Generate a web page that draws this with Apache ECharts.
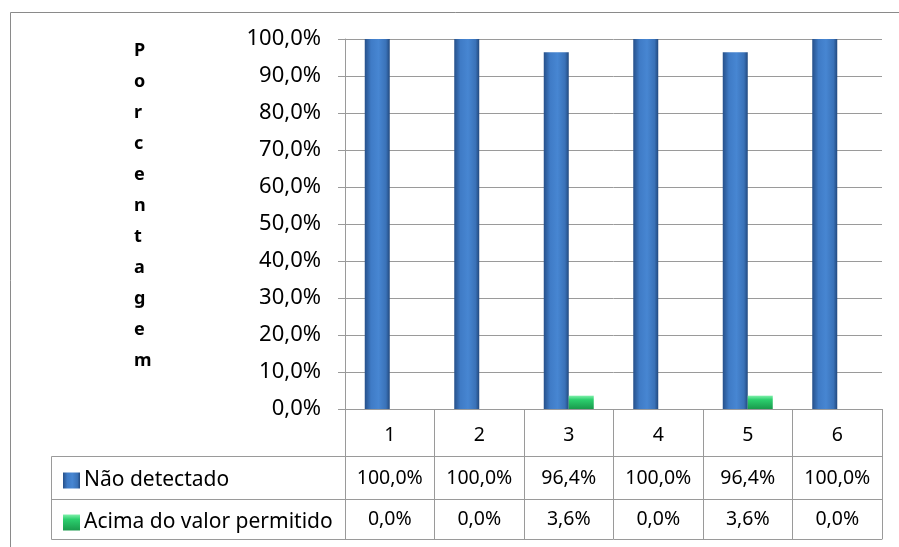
<!DOCTYPE html>
<html>
<head>
<meta charset="utf-8">
<script src="https://cdn.jsdelivr.net/npm/echarts@6/dist/echarts.min.js"></script>
<style>
  html, body { margin: 0; padding: 0; background: #fff; }
  #main { width: 899px; height: 547px; }
</style>
</head>
<body>
<div id="main"></div>
<script>
// dados do gráfico
const categorias = ['1', '2', '3', '4', '5', '6']
const naoDetectado = [1.0, 1.0, 0.964, 1.0, 0.964, 1.0]
const acimaPermitido = [0.0, 0.0, 0.036, 0.0, 0.036, 0.0]
const nomesSeries = ['Não detectado', 'Acima do valor permitido']
const tituloEixo = 'Porcentagem'

const fonte = '"Noto Sans", "Open Sans", sans-serif'
const cinza = '#9a9a9a'

function pct(v) {
  return (v * 100).toFixed(1).replace('.', ',') + '%'
}

const myChart = echarts.init(document.getElementById('main'))

const gradAzul = new echarts.graphic.LinearGradient(0, 0, 1, 0, [
  { offset: 0, color: '#26508a' },
  { offset: 0.25, color: '#3f7bc6' },
  { offset: 0.55, color: '#4786d2' },
  { offset: 0.85, color: '#3a72b8' },
  { offset: 1, color: '#22497e' }
])
const gradVerde = new echarts.graphic.LinearGradient(0, 0, 0, 1, [
  { offset: 0, color: '#7ff0aa' },
  { offset: 0.3, color: '#2ccf6e' },
  { offset: 1, color: '#1a9a4c' }
])

// eixos extras para as linhas da tabela de dados
function eixoTabela(offset, valores, margem) {
  return {
    type: 'category',
    data: categorias,
    position: 'bottom',
    offset: offset,
    axisLine: { show: true, lineStyle: { color: cinza } },
    axisTick: { show: false },
    axisLabel: {
      show: !!valores,
      interval: 0,
      margin: margem || 10,
      color: '#000',
      fontFamily: fonte,
      fontSize: 19.5,
      formatter: function (v, i) { return valores ? pct(valores[i]) : '' }
    }
  }
}

const option = {
  animation: false,
  textStyle: { fontFamily: fonte },
  title: {
    text: tituloEixo.split('').join('\n'),
    left: 129,
    top: 30,
    textStyle: {
      fontFamily: fonte,
      fontSize: 18,
      fontWeight: 'bold',
      color: '#000',
      lineHeight: 31
    }
  },
  legend: {
    orient: 'vertical',
    left: 58,
    top: 465,
    itemWidth: 17,
    itemHeight: 16,
    itemGap: 21,
    icon: 'rect',
    data: nomesSeries,
    textStyle: { color: '#000', fontSize: 21, fontFamily: fonte, lineHeight: 20, padding: [0, 0, 0, -1] }
  },
  grid: {
    left: 345,
    right: 17,
    top: 39,
    bottom: 138
  },
  xAxis: [
    {
      type: 'category',
      data: categorias,
      position: 'bottom',
      axisLine: { show: true, lineStyle: { color: cinza } },
      axisTick: { show: true, length: 130, alignWithLabel: false, lineStyle: { color: cinza } },
      axisLabel: { interval: 0, margin: 16, color: '#000', fontSize: 19.5, fontFamily: fonte }
    },
    eixoTabela(47, naoDetectado, 12),
    eixoTabela(90, acimaPermitido, 10),
    eixoTabela(130, null)
  ],
  yAxis: {
    type: 'value',
    min: 0,
    max: 1,
    interval: 0.1,
    axisLine: { show: true, lineStyle: { color: cinza } },
    axisTick: { show: true, length: 7, lineStyle: { color: cinza } },
    splitLine: { show: true, lineStyle: { color: cinza } },
    axisLabel: {
      margin: 24,
      color: '#000',
      fontSize: 22,
      fontFamily: fonte,
      formatter: pct
    }
  },
  graphic: [
    {
      type: 'rect',
      shape: { x: 10.5, y: 12.5, width: 920, height: 560 },
      style: { fill: 'none', stroke: '#8a8a8a', lineWidth: 1 },
      silent: true
    },
    {
      type: 'rect',
      shape: { x: 51.5, y: 456.5, width: 294, height: 83 },
      style: { fill: 'none', stroke: cinza, lineWidth: 1 },
      silent: true
    },
    {
      type: 'line',
      shape: { x1: 51, y1: 499.5, x2: 345, y2: 499.5 },
      style: { stroke: cinza, lineWidth: 1 },
      silent: true
    }
  ],
  series: [
    {
      name: nomesSeries[0],
      type: 'bar',
      xAxisIndex: 0,
      barWidth: 25,
      barGap: '0%',
      data: naoDetectado,
      itemStyle: { color: gradAzul }
    },
    {
      name: nomesSeries[1],
      type: 'bar',
      xAxisIndex: 0,
      barWidth: 25,
      barGap: '0%',
      data: acimaPermitido,
      itemStyle: { color: gradVerde }
    }
  ]
}

myChart.setOption(option)
</script>
</body>
</html>
